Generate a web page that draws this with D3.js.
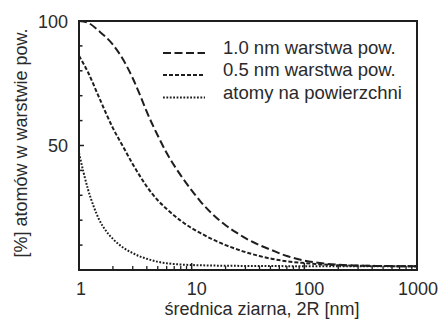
<!DOCTYPE html>
<html><head><meta charset="utf-8">
<script src="https://cdn.jsdelivr.net/npm/d3@7/dist/d3.min.js"></script>
<style>html,body{margin:0;padding:0;background:#fff;} svg{display:block;font-family:"Liberation Sans",Arial,sans-serif;}</style>
</head><body>
<svg id="c" width="441" height="320"></svg>
<script>
// grain diameter 2R [nm] for the layer curves
const diam = [1, 1.2, 1.5, 2, 2.5, 3, 3.5, 4, 5, 6, 8, 10, 12, 15, 20, 25, 30, 40, 50, 70, 100, 150, 200, 300, 500, 700, 1000];
// % of atoms in 1.0 nm surface layer
const layer10 = [100, 99.3, 96, 90.5, 84, 77, 70, 63.5, 54, 47, 38, 32, 27.5, 22.8, 18, 15, 12.8, 10, 8.2, 5.6, 3.8, 2.6, 2.1, 1.8, 1.6, 1.5, 1.5];
// % of atoms in 0.5 nm surface layer
const layer05 = [86, 79.5, 69.5, 57, 49, 42.5, 37.5, 33.5, 28, 24.5, 19.8, 16.8, 14.8, 12.5, 10, 8.4, 7.2, 5.6, 4.6, 3.5, 2.8, 2.2, 1.9, 1.7, 1.6, 1.5, 1.5];
// grain diameter 2R [nm] for the surface-atom curve
const diamSurf = [1, 1.1, 1.2, 1.35, 1.5, 1.75, 2, 2.5, 3, 3.5, 4, 5, 6, 8, 10, 15, 20, 50, 100, 1000];
// % of atoms on the surface
const surface = [47, 39, 32.5, 25.5, 20.5, 15.5, 12.5, 8.8, 6.8, 5.4, 4.5, 3.3, 2.7, 2.2, 2, 1.8, 1.7, 1.6, 1.5, 1.5];
const seriesNames = ["1.0 nm warstwa pow.", "0.5 nm warstwa pow.", "atomy na powierzchni"];
const xTickLabels = ["1", "10", "100", "1000"];
const yTickLabels = ["50", "100"];
const xTitle = "średnica ziarna, 2R [nm]";
const yTitle = "[%] atomów w warstwie pow.";

const svg = d3.select("#c");
const L = 79, R = 417, T = 21, B = 270;
const x = d3.scaleLog().domain([1, 1000]).range([L, R]);
const y = d3.scaleLinear().domain([0, 100]).range([B, T]);
const ink = "#1e1e1e";
const dashes = ["8,3.5", "4,2", "1.8,1.6"];

// curves
const line = d3.line().x(d => x(d[0])).y(d => y(d[1])).curve(d3.curveMonotoneX);
const series = [[diam, layer10], [diam, layer05], [diamSurf, surface]];
series.forEach(([xs, vals], i) => {
  svg.append("path").datum(xs.map((d, j) => [d, vals[j]]))
    .attr("d", line).attr("fill", "none").attr("stroke", ink)
    .attr("stroke-width", 2).attr("stroke-dasharray", dashes[i]);
});

// minor y ticks (inward)
const yt = d3.range(10, 100, 10);
svg.selectAll(".yt").data(yt).enter().append("line")
  .attr("x1", L).attr("x2", d => L + (d === 50 ? 5 : 3.5))
  .attr("y1", d => y(d)).attr("y2", d => y(d))
  .attr("stroke", ink).attr("stroke-width", 1.5);

// x ticks (inward, log)
const xt = [];
[1, 10, 100].forEach(dec => { for (let k = 2; k <= 9; k++) xt.push(dec * k); });
svg.selectAll(".xt").data(xt).enter().append("line")
  .attr("x1", d => x(d)).attr("x2", d => x(d))
  .attr("y1", B).attr("y2", B - 4)
  .attr("stroke", ink).attr("stroke-width", 1.3);
svg.selectAll(".xm").data([10, 100]).enter().append("line")
  .attr("x1", d => x(d)).attr("x2", d => x(d))
  .attr("y1", B).attr("y2", B - 7)
  .attr("stroke", ink).attr("stroke-width", 1.5);

// frame
svg.append("rect").attr("x", L).attr("y", T).attr("width", R - L).attr("height", B - T)
  .attr("fill", "none").attr("stroke", ink).attr("stroke-width", 2);

// tick labels
svg.selectAll(".xl").data(xTickLabels).enter().append("text")
  .attr("x", d => x(+d) + (d === "1" ? 2 : d === "1000" ? 1 : 5)).attr("y", 295)
  .attr("text-anchor", "middle").attr("font-size", 18).attr("fill", "#2a2a2a").text(d => d);
svg.selectAll(".yl").data(yTickLabels).enter().append("text")
  .attr("x", 68).attr("y", d => y(+d) + 6.5)
  .attr("text-anchor", "end").attr("font-size", 18).attr("fill", "#2a2a2a").text(d => d);

// axis titles
svg.append("text").attr("x", 262).attr("y", 315).attr("text-anchor", "middle")
  .attr("font-size", 18).attr("fill", "#2a2a2a").text(xTitle);
svg.append("text").attr("transform", "translate(27,143) rotate(-90)").attr("text-anchor", "middle")
  .attr("font-size", 18).attr("fill", "#2a2a2a").text(yTitle);

// legend
const legY = [53, 75, 97.5];
seriesNames.forEach((n, i) => {
  svg.append("line").attr("x1", 163).attr("x2", 205).attr("y1", legY[i]).attr("y2", legY[i])
    .attr("stroke", ink).attr("stroke-width", 2).attr("stroke-dasharray", dashes[i]);
  svg.append("text").attr("x", 223).attr("y", legY[i] + 1).attr("font-size", 18.5)
    .attr("fill", "#2a2a2a").text(n);
});
</script>
</body></html>
